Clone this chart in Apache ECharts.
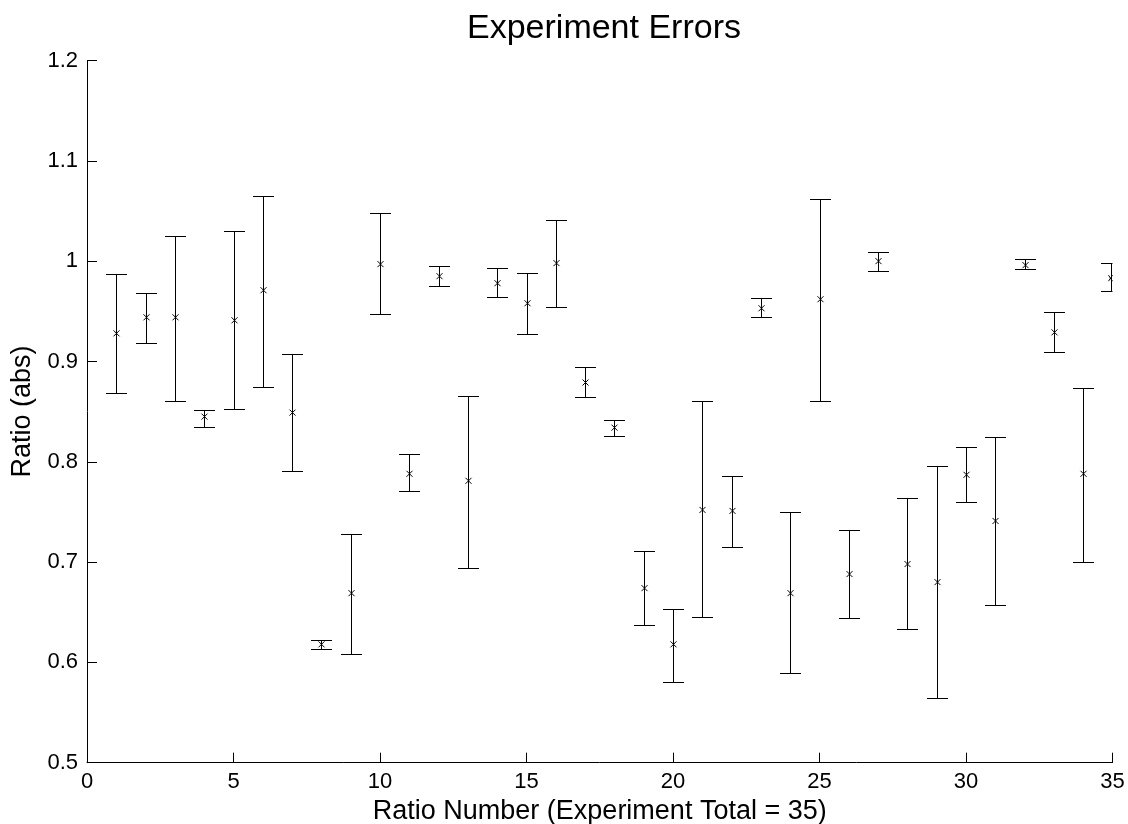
<!DOCTYPE html>
<html>
<head>
<meta charset="utf-8">
<script src="https://cdn.jsdelivr.net/npm/echarts@6/dist/echarts.min.js"></script>
<style>
html,body{margin:0;padding:0;background:#fff;}
#chart{width:1128px;height:824px;}
</style>
</head>
<body>
<div id="chart"></div>
<script>
const ratioNumber = [1,2,3,4,5,6,7,8,9,10,11,12,13,14,15,16,17,18,19,20,21,22,23,24,25,26,27,28,29,30,31,32,33,34,35];
const ratioMean = [0.928,0.944,0.944,0.845,0.941,0.971,0.849,0.618,0.669,0.997,0.788,0.985,0.781,0.978,0.958,0.998,0.879,0.834,0.674,0.618,0.752,0.751,0.953,0.669,0.962,0.688,1.000,0.698,0.680,0.787,0.741,0.996,0.929,0.788,0.983];
const ratioUpper = [0.987,0.968,1.025,0.852,1.030,1.065,0.907,0.622,0.728,1.048,0.808,0.995,0.866,0.993,0.988,1.041,0.894,0.842,0.711,0.653,0.861,0.786,0.963,0.750,1.062,0.732,1.009,0.764,0.796,0.815,0.825,1.002,0.949,0.874,0.998];
const ratioLower = [0.869,0.918,0.861,0.835,0.853,0.875,0.791,0.613,0.608,0.947,0.771,0.975,0.694,0.964,0.927,0.954,0.865,0.826,0.637,0.580,0.645,0.715,0.944,0.589,0.861,0.644,0.990,0.633,0.564,0.760,0.657,0.992,0.909,0.700,0.970];
const yTicks = {min:0.5, max:1.2, interval:0.1};
const xTicks = {min:0, max:35, interval:5};

const FONT = "'Liberation Sans', Arial, Helvetica, sans-serif";
const data = ratioNumber.map((n,i)=>[n, ratioMean[i], ratioLower[i], ratioUpper[i]]);

const chart = echarts.init(document.getElementById('chart'), null, {renderer:'canvas'});

function px(v){ return Math.round(v) + 0.5; }

chart.setOption({
  animation:false,
  backgroundColor:'#fff',
  title:{
    text:'Experiment Errors',
    left:599, top:7, textAlign:'center',
    textStyle:{fontFamily:FONT, fontSize:34, fontWeight:'normal', color:'#000'}
  },
  grid:{left:87, right:15.5, top:60.5, bottom:61.3, containLabel:false, outerBoundsMode:'none'},
  xAxis:{
    type:'value', min:xTicks.min, max:xTicks.max, interval:xTicks.interval,
    name:'Ratio Number (Experiment Total = 35)', nameLocation:'middle', nameGap:35,
    nameTextStyle:{fontFamily:FONT, fontSize:27, color:'#000'},
    axisLine:{show:true, lineStyle:{color:'#000', width:1}},
    axisTick:{show:true, inside:true, length:10, lineStyle:{color:'#000'}},
    axisLabel:{fontFamily:FONT, fontSize:22, color:'#000', margin:8},
    splitLine:{show:false}
  },
  yAxis:{
    type:'value', min:yTicks.min, max:yTicks.max, interval:yTicks.interval,
    name:'Ratio (abs)', nameLocation:'middle', nameGap:42,
    nameTextStyle:{fontFamily:FONT, fontSize:27, color:'#000'},
    axisLine:{show:true, lineStyle:{color:'#000', width:1}},
    axisTick:{show:true, inside:true, length:10, lineStyle:{color:'#000'}},
    axisLabel:{fontFamily:FONT, fontSize:22, color:'#000', margin:9,
      formatter:v=>String(parseFloat(v.toFixed(1)))},
    splitLine:{show:false}
  },
  series:[{
    type:'custom',
    clip:false,
    data:data,
    renderItem:function(params, api){
      const cs = params.coordSys;
      const right = cs.x + cs.width;
      const x = api.value(0);
      const m = api.coord([x, api.value(1)]);
      const lo = api.coord([x, api.value(2)]);
      const hi = api.coord([x, api.value(3)]);
      const cx = Math.min(px(m[0]), Math.floor(right) - 0.5);
      const cap = 10.5;
      const ms = 3;
      const capR = Math.min(cx + cap, right);
      const style = {stroke:'#000', lineWidth:1, fill:null};
      return {
        type:'group',
        children:[
          {type:'line', shape:{x1:cx, y1:px(hi[1]), x2:cx, y2:px(lo[1])}, style:style},
          {type:'line', shape:{x1:cx-cap, y1:px(hi[1]), x2:capR, y2:px(hi[1])}, style:style},
          {type:'line', shape:{x1:cx-cap, y1:px(lo[1]), x2:capR, y2:px(lo[1])}, style:style},
          {type:'line', shape:{x1:cx-ms, y1:m[1]-ms, x2:Math.min(cx+ms,right), y2:m[1]+ms}, style:style},
          {type:'line', shape:{x1:cx-ms, y1:m[1]+ms, x2:Math.min(cx+ms,right), y2:m[1]-ms}, style:style}
        ]
      };
    }
  }]
});
</script>
</body>
</html>
